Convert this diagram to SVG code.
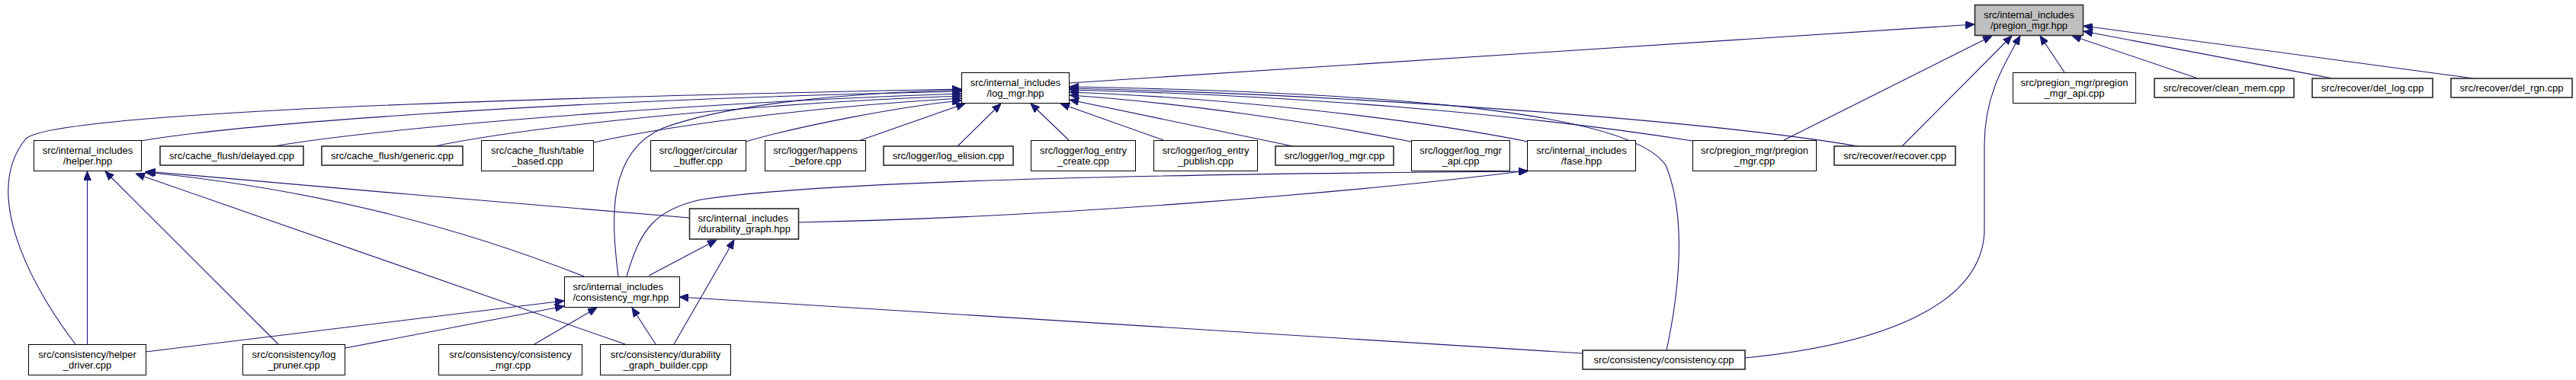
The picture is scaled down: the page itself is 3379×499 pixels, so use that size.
<svg xmlns="http://www.w3.org/2000/svg" width="3379" height="499" viewBox="0 0 3379 499">
<style>
.n rect{fill:#fff;stroke:#000;stroke-width:1}
.n rect.t{stroke:#2a2a2a;stroke-width:1.6}
.n rect.g{fill:#bfbfbf}
.n text{font-family:"Liberation Sans",Arial,Helvetica,sans-serif;font-size:13px;fill:#000;text-anchor:middle}
.n text.l{text-anchor:start}
#edges path{fill:none;stroke:#191970;stroke-width:1.1;marker-end:url(#ah)}
</style>
<defs>
<marker id="ah" viewBox="0 0 12 10" refX="12" refY="5" markerWidth="12" markerHeight="10" markerUnits="userSpaceOnUse" orient="auto">
<path d="M0,0 L12,5 L0,10 z" fill="#191970" stroke="#191970" stroke-width="1"/>
</marker>
</defs>
<rect width="3379" height="499" fill="#fff"/>
<g id="edges">
<path d="M1403,109 L2590,32"/>
<path d="M2340,184 L2613,47"/>
<path d="M2495,192 L2639,47"/>
<path d="M2289,470 C2470,452 2603,400 2603,300 L2603,190 C2603,130 2625,90 2650,47"/>
<path d="M2708,95 L2676,47"/>
<path d="M2883,103 L2718,47"/>
<path d="M3060,103 L2733,41"/>
<path d="M3245,103 L2733,34"/>
<path d="M99,452 C55,395 -30,260 34,182 C70,150 600,130 1261,117"/>
<path d="M811,363 C802,290 795,200 870,168 C960,135 1120,122 1261,118"/>
<path d="M185,185 C300,165 700,132 1261,120"/>
<path d="M359,192 C500,168 900,135 1261,123"/>
<path d="M570,192 C700,165 1000,135 1261,126"/>
<path d="M779,187 C900,160 1100,138 1261,129"/>
<path d="M978,186 C1050,165 1180,140 1261,132"/>
<path d="M1129,184 L1266,136"/>
<path d="M1256,192 L1313,136"/>
<path d="M1402,184 L1352,136"/>
<path d="M1526,184 L1391,136"/>
<path d="M1696,192 L1403,131"/>
<path d="M1851,186 C1720,160 1550,135 1403,125"/>
<path d="M2004,186 C1850,155 1600,128 1403,121"/>
<path d="M2220,185 C2000,150 1700,125 1403,118"/>
<path d="M2437,192 C2250,160 1800,125 1403,116"/>
<path d="M2186,460 C2200,395 2215,290 2185,217 C2140,150 1850,122 1403,114"/>
<path d="M114.5,452 L114.5,225"/>
<path d="M365,452 L138,225"/>
<path d="M766,363 C620,305 430,250 190,226"/>
<path d="M904,286 C700,268 400,245 192,225"/>
<path d="M820,452 L178,228"/>
<path d="M191,462 L740,395"/>
<path d="M453,457 L740,402"/>
<path d="M701,452 L783,404"/>
<path d="M860,452 L829,404"/>
<path d="M2076,464 L891,390"/>
<path d="M851,362 L940,315"/>
<path d="M884,452 L963,315"/>
<path d="M822,363 C840,300 860,275 920,262 C1100,235 1600,228 2004,225"/>
<path d="M1047,292 C1400,285 1800,250 2004,224"/>
</g>
<g id="pregion_mgr_hpp" class="n"><rect class="t g" x="2590.5" y="6.5" width="142" height="40"/><text x="2661.5" y="23.5">src/internal_includes</text><text x="2661.5" y="37.5">/pregion_mgr.hpp</text></g>
<g id="log_mgr_hpp" class="n"><rect x="1261.5" y="95.5" width="141" height="40"/><text x="1332" y="112.5">src/internal_includes</text><text x="1332" y="126.5">/log_mgr.hpp</text></g>
<g id="pregion_mgr_api_cpp" class="n"><rect x="2640.5" y="95.5" width="161" height="40"/><text x="2721" y="112.5">src/pregion_mgr/pregion</text><text x="2721" y="126.5">_mgr_api.cpp</text></g>
<g id="clean_mem_cpp" class="n"><rect class="t" x="2826" y="103" width="183" height="25"/><text x="2917.5" y="120">src/recover/clean_mem.cpp</text></g>
<g id="del_log_cpp" class="n"><rect class="t" x="3033" y="103" width="158" height="25"/><text x="3112" y="120">src/recover/del_log.cpp</text></g>
<g id="del_rgn_cpp" class="n"><rect class="t" x="3215" y="103" width="159" height="25"/><text x="3294.5" y="120">src/recover/del_rgn.cpp</text></g>
<g id="helper_hpp" class="n"><rect x="44.5" y="184.5" width="141" height="40"/><text x="115" y="201.5">src/internal_includes</text><text x="115" y="215.5">/helper.hpp</text></g>
<g id="delayed_cpp" class="n"><rect class="t" x="210" y="192" width="188" height="25"/><text x="304" y="209">src/cache_flush/delayed.cpp</text></g>
<g id="generic_cpp" class="n"><rect class="t" x="422" y="192" width="185" height="25"/><text x="514.5" y="209">src/cache_flush/generic.cpp</text></g>
<g id="table_based_cpp" class="n"><rect x="631.5" y="184.5" width="147" height="40"/><text x="705" y="201.5">src/cache_flush/table</text><text x="705" y="215.5">_based.cpp</text></g>
<g id="circular_buffer_cpp" class="n"><rect x="853.5" y="184.5" width="125" height="40"/><text x="916" y="201.5">src/logger/circular</text><text x="916" y="215.5">_buffer.cpp</text></g>
<g id="happens_before_cpp" class="n"><rect x="1003.5" y="184.5" width="132" height="40"/><text x="1069.5" y="201.5">src/logger/happens</text><text x="1069.5" y="215.5">_before.cpp</text></g>
<g id="log_elision_cpp" class="n"><rect class="t" x="1159" y="192" width="170" height="25"/><text x="1244" y="209">src/logger/log_elision.cpp</text></g>
<g id="log_entry_create_cpp" class="n"><rect x="1352.5" y="184.5" width="137" height="40"/><text x="1421" y="201.5">src/logger/log_entry</text><text x="1421" y="215.5">_create.cpp</text></g>
<g id="log_entry_publish_cpp" class="n"><rect x="1513.5" y="184.5" width="136" height="40"/><text x="1581.5" y="201.5">src/logger/log_entry</text><text x="1581.5" y="215.5">_publish.cpp</text></g>
<g id="log_mgr_cpp" class="n"><rect class="t" x="1673" y="192" width="155" height="25"/><text x="1750.5" y="209">src/logger/log_mgr.cpp</text></g>
<g id="log_mgr_api_cpp" class="n"><rect x="1851.5" y="184.5" width="129" height="40"/><text x="1916" y="201.5">src/logger/log_mgr</text><text x="1916" y="215.5">_api.cpp</text></g>
<g id="fase_hpp" class="n"><rect x="2003.5" y="184.5" width="142" height="40"/><text x="2074.5" y="201.5">src/internal_includes</text><text x="2074.5" y="215.5">/fase.hpp</text></g>
<g id="pregion_mgr_cpp" class="n"><rect x="2220.5" y="184.5" width="162" height="40"/><text x="2301.5" y="201.5">src/pregion_mgr/pregion</text><text x="2301.5" y="215.5">_mgr.cpp</text></g>
<g id="recover_cpp" class="n"><rect class="t" x="2406" y="192" width="159" height="25"/><text x="2485.5" y="209">src/recover/recover.cpp</text></g>
<g id="durability_graph_hpp" class="n"><rect class="t" x="904.5" y="274" width="143" height="40"/><text class="l" x="915.5" y="291">src/internal_includes</text><text class="l" x="915.5" y="305">/durability_graph.hpp</text></g>
<g id="consistency_mgr_hpp" class="n"><rect x="740.5" y="363.5" width="151" height="40"/><text class="l" x="751.5" y="380.5">src/internal_includes</text><text class="l" x="751.5" y="394.5">/consistency_mgr.hpp</text></g>
<g id="helper_driver_cpp" class="n"><rect x="37.5" y="452.5" width="154" height="40"/><text x="114.5" y="469.5">src/consistency/helper</text><text x="114.5" y="483.5">_driver.cpp</text></g>
<g id="log_pruner_cpp" class="n"><rect x="318.5" y="452.5" width="134" height="40"/><text x="385.5" y="469.5">src/consistency/log</text><text x="385.5" y="483.5">_pruner.cpp</text></g>
<g id="consistency_mgr_cpp" class="n"><rect x="575.5" y="452.5" width="188" height="40"/><text x="669.5" y="469.5">src/consistency/consistency</text><text x="669.5" y="483.5">_mgr.cpp</text></g>
<g id="durability_graph_builder_cpp" class="n"><rect x="787.5" y="452.5" width="171" height="40"/><text x="873" y="469.5">src/consistency/durability</text><text x="873" y="483.5">_graph_builder.cpp</text></g>
<g id="consistency_cpp" class="n"><rect class="t" x="2076" y="460" width="213" height="25"/><text x="2182.5" y="477">src/consistency/consistency.cpp</text></g>
</svg>
